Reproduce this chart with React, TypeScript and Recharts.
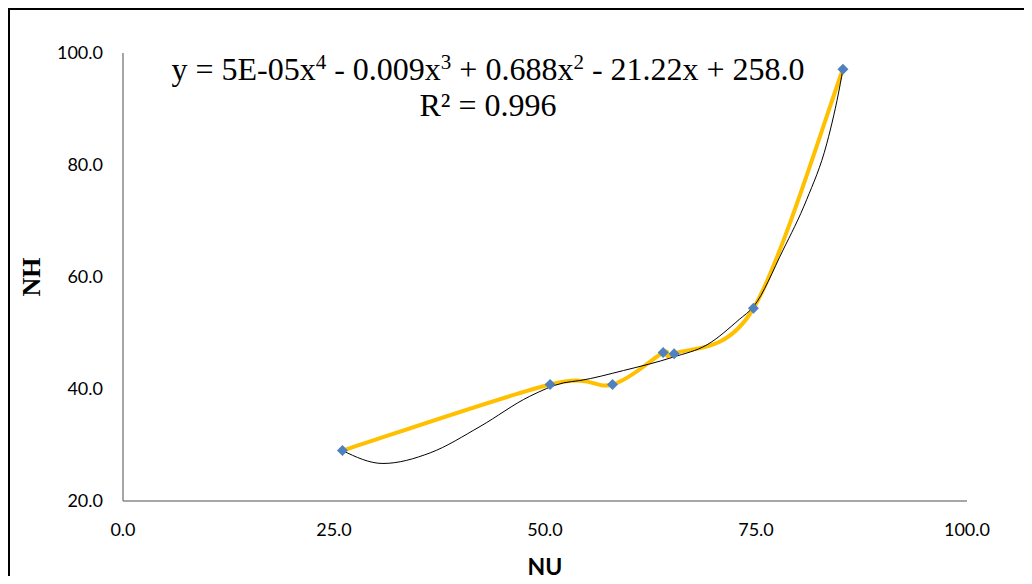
import React from "react";
import { ComposedChart, Line, Scatter, XAxis, YAxis } from "recharts";

// measured points (NU, NH)
const nuValues = [26.0, 50.6, 58.0, 64.0, 65.3, 74.7, 85.3];
const nhValues = [29.0, 40.8, 40.8, 46.5, 46.3, 54.4, 97.1];

// polynomial trendline
const trendNu = [26.0, 30.8, 36.4, 42.3, 48.2, 52.2, 54.1, 59.3, 65.2, 69.2, 73.0, 74.7, 78.2, 81.0, 83.4, 85.0, 85.3];
const trendNh = [29.0, 26.7, 28.6, 33.3, 38.7, 41.1, 41.5, 43.3, 45.7, 47.9, 52.4, 54.7, 64.8, 73.8, 83.9, 94.6, 97.1];

const xTicks = [0, 25, 50, 75, 100];
const yTicks = [20, 40, 60, 80, 100];

const points = nuValues.map((x, i) => ({ x, y: nhValues[i] }));
const trend = trendNu.map((x, i) => ({ x, y: trendNh[i] }));

// smoothed line like the spreadsheet one (catmull-rom through the points)
const smoothCurve: any = (ctx: any) => {
    let pts: number[][] = [];
    return {
        areaStart() {},
        areaEnd() {},
        lineStart() { pts = []; },
        point(x: number, y: number) { pts.push([x, y]); },
        lineEnd() {
            if (!pts.length) return;
            ctx.moveTo(pts[0][0], pts[0][1]);
            for (let i = 0; i < pts.length - 1; i++) {
                const p0 = pts[i - 1] || pts[i];
                const p1 = pts[i];
                const p2 = pts[i + 1];
                const p3 = pts[i + 2] || p2;
                ctx.bezierCurveTo(
                    p1[0] + (p2[0] - p0[0]) / 6, p1[1] + (p2[1] - p0[1]) / 6,
                    p2[0] - (p3[0] - p1[0]) / 6, p2[1] - (p3[1] - p1[1]) / 6,
                    p2[0], p2[1]
                );
            }
        },
    };
};

const Diamond = (props: any) => {
    const { cx, cy } = props;
    const r = 5.5;
    return <polygon points={`${cx},${cy - r} ${cx + r},${cy} ${cx},${cy + r} ${cx - r},${cy}`} fill="#4f81bd" />;
};

const tickStyle = { fill: "#000", fontSize: 18, fontFamily: "Lato, sans-serif" };
const sup = { fontSize: 21, verticalAlign: 11, lineHeight: 0 };

export default function App() {
    return (
        <div
            style={{
                position: "relative",
                width: 1014,
                height: 566,
                borderLeft: "2px solid #000",
                borderTop: "2px solid #000",
                background: "#fff",
            }}
        >
            <ComposedChart width={1014} height={566} margin={{ top: 43, right: 57, left: 53, bottom: 45 }}>
                <XAxis
                    type="number"
                    dataKey="x"
                    domain={[0, 100]}
                    ticks={xTicks}
                    tickFormatter={(v) => v.toFixed(1)}
                    axisLine={{ stroke: "#898989", strokeWidth: 1.5 }}
                    tickLine={false}
                    tickSize={0}
                    tickMargin={22}
                    tick={tickStyle}
                    height={30}
                />
                <YAxis
                    type="number"
                    dataKey="y"
                    domain={[20, 100]}
                    ticks={yTicks}
                    tickFormatter={(v) => v.toFixed(1)}
                    axisLine={{ stroke: "#898989", strokeWidth: 1.5 }}
                    tickLine={false}
                    tickSize={0}
                    tickMargin={20}
                    tick={tickStyle}
                    width={60}
                />
                <Line
                    data={points}
                    dataKey="y"
                    type={smoothCurve}
                    stroke="#ffc000"
                    strokeWidth={4}
                    dot={false}
                    activeDot={false}
                    isAnimationActive={false}
                />
                <Scatter data={points} dataKey="y" shape={<Diamond />} isAnimationActive={false} />
                <Line
                    data={trend}
                    dataKey="y"
                    type="monotone"
                    stroke="#000"
                    strokeWidth={1}
                    dot={false}
                    activeDot={false}
                    isAnimationActive={false}
                />
            </ComposedChart>

            <div
                style={{
                    position: "absolute",
                    left: 28,
                    top: 41,
                    width: 900,
                    textAlign: "center",
                    fontFamily: "'Liberation Serif', 'Times New Roman', serif",
                    fontSize: 32,
                    lineHeight: "36px",
                    color: "#000",
                    whiteSpace: "nowrap",
                }}
            >
                <div>
                    y = 5E-05x<span style={sup}>4</span> - 0.009x<span style={sup}>3</span> + 0.688x
                    <span style={sup}>2</span> - 21.22x + 258.0
                </div>
                <div>R² = 0.996</div>
            </div>

            <div
                style={{
                    position: "absolute",
                    left: 22,
                    top: 267,
                    transform: "translate(-50%, -50%) rotate(-90deg)",
                    fontFamily: "'Liberation Serif', 'Times New Roman', serif",
                    fontWeight: "bold",
                    fontSize: 26,
                    color: "#000",
                    whiteSpace: "nowrap",
                }}
            >
                NH
            </div>

            <div
                style={{
                    position: "absolute",
                    left: 535,
                    top: 556,
                    transform: "translate(-50%, -50%)",
                    fontFamily: "Lato, sans-serif",
                    fontWeight: "bold",
                    fontSize: 23,
                    color: "#000",
                    whiteSpace: "nowrap",
                }}
            >
                NU
            </div>
        </div>
    );
}
